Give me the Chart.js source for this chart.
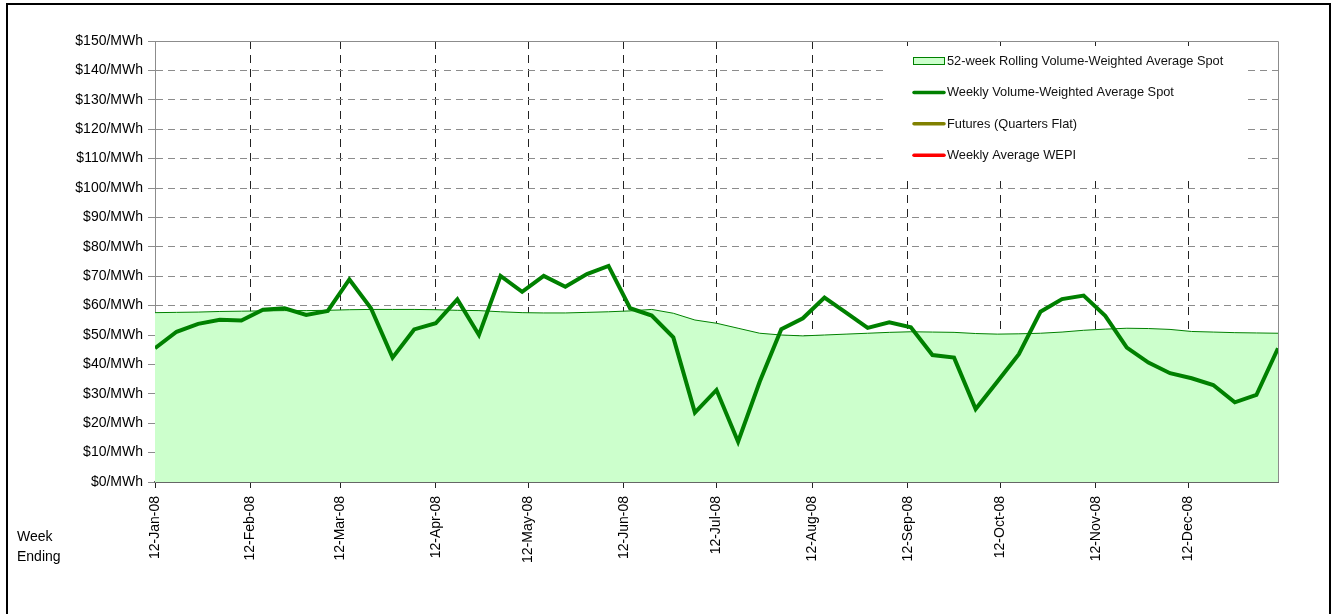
<!DOCTYPE html>
<html lang="en">
  <head>
    <meta charset="UTF-8" />
    <title>Weekly Volume-Weighted Average Spot</title>
    <style>
      body {
        margin: 0;
        padding: 0;
        background-color: white;
        overflow: hidden;
      }
    </style>
  </head>
  <body>
    <canvas id="myChart" width="1335" height="614"></canvas>
    <script src="https://cdn.jsdelivr.net/npm/chart.js@4.4.0/dist/chart.umd.min.js"></script>
    <script>
      // week ending dates start 12-Jan-08, one point per week
      const firstWeek = Date.UTC(2008, 0, 12);

      const spotWeekly = [
        45.5, 51.1, 53.8, 55.2, 54.9, 58.6, 59.1, 56.8, 58.2, 68.9,
        59.1, 42.3, 51.9, 54.0, 62.1, 50.0, 70.1, 64.7, 70.1, 66.4,
        70.7, 73.5, 59.1, 56.6, 49.2, 23.6, 31.3, 13.7, 34.1, 52.0,
        55.7, 62.7, 57.6, 52.4, 54.3, 52.6, 43.2, 42.3, 24.8, 34.1,
        43.5, 57.9, 62.2, 63.4, 56.5, 45.7, 40.6, 37.0, 35.3, 33.0,
        27.1, 29.6, 45.5,
      ];

      const rolling52 = [
        57.6, 57.7, 57.8, 58.0, 58.1, 58.2, 58.3, 58.3, 58.4, 58.6,
        58.7, 58.7, 58.7, 58.6, 58.4, 58.3, 57.9, 57.6, 57.5, 57.5,
        57.7, 57.9, 58.2, 58.7, 57.4, 55.1, 54.0, 52.3, 50.6, 50.0,
        49.7, 50.0, 50.3, 50.6, 50.9, 51.1, 51.0, 50.9, 50.5, 50.3,
        50.4, 50.6, 51.0, 51.6, 52.0, 52.3, 52.2, 51.9, 51.2, 51.0,
        50.8, 50.7, 50.6,
      ];

      // no data shown for these two series
      const futuresQuarters = [];
      const wepiWeekly = [];

      const tickLabels = [
        "12-Jan-08", "12-Feb-08", "12-Mar-08", "12-Apr-08", "12-May-08", "12-Jun-08",
        "12-Jul-08", "12-Aug-08", "12-Sep-08", "12-Oct-08", "12-Nov-08", "12-Dec-08",
      ];
      const tickDays = tickLabels.map(function (_, m) {
        return (Date.UTC(2008, m, 12) - firstWeek) / 86400000;
      });

      const toPoints = (arr) => arr.map((v, i) => ({ x: i * 7, y: v }));

      const fontFamily = "Arial, 'Liberation Sans', sans-serif";

      const chartFrame = {
        id: "chartFrame",
        afterDraw(chart) {
          const ctx = chart.ctx;
          const a = chart.chartArea;
          ctx.save();
          // plot area top and right edges
          ctx.strokeStyle = "#8c8c8c";
          ctx.lineWidth = 1;
          ctx.beginPath();
          ctx.moveTo(a.left, a.top + 0.5);
          ctx.lineTo(a.right + 0.5, a.top + 0.5);
          ctx.lineTo(a.right + 0.5, a.bottom);
          ctx.stroke();
          // outer frame
          ctx.strokeStyle = "#000";
          ctx.lineWidth = 2;
          ctx.beginPath();
          ctx.moveTo(7, chart.height + 2);
          ctx.lineTo(7, 4);
          ctx.lineTo(1330, 4);
          ctx.lineTo(1330, chart.height + 2);
          ctx.stroke();
          // axis caption
          ctx.fillStyle = "#000";
          ctx.font = "14px " + fontFamily;
          ctx.textBaseline = "middle";
          ctx.textAlign = "left";
          ctx.fillText("Week", 17, 537);
          ctx.fillText("Ending", 17, 557);
          ctx.restore();
        },
      };

      const boxLegend = {
        id: "boxLegend",
        beforeDatasetsDraw(chart) {
          const ctx = chart.ctx;
          const sets = chart.data.datasets;
          ctx.save();
          ctx.fillStyle = "#fff";
          ctx.fillRect(885, 46, 362, 132);
          ctx.font = "12.8px " + fontFamily;
          ctx.textBaseline = "middle";
          ctx.textAlign = "left";
          sets.forEach(function (ds, i) {
            const y = 61 + i * 31.4;
            if (ds.fill) {
              ctx.fillStyle = ds.backgroundColor;
              ctx.fillRect(913.5, y - 3.5, 31, 7);
              ctx.strokeStyle = ds.borderColor;
              ctx.lineWidth = 1;
              ctx.strokeRect(913.5, y - 3.5, 31, 7);
            } else {
              ctx.strokeStyle = ds.borderColor;
              ctx.lineWidth = 3.5;
              ctx.lineCap = "round";
              ctx.beginPath();
              ctx.moveTo(914, y);
              ctx.lineTo(944, y);
              ctx.stroke();
            }
            ctx.fillStyle = "#111";
            ctx.fillText(ds.label, 947, y + 0.5);
          });
          ctx.restore();
        },
      };

      const data = {
        datasets: [
          {
            label: "52-week Rolling Volume-Weighted Average Spot",
            data: toPoints(rolling52),
            fill: "origin",
            backgroundColor: "#ccffcc",
            borderColor: "#008000",
            borderWidth: 1,
            pointRadius: 0,
            order: 2,
          },
          {
            label: "Weekly Volume-Weighted Average Spot",
            data: toPoints(spotWeekly),
            fill: false,
            borderColor: "#008000",
            borderWidth: 4,
            pointRadius: 0,
            order: 1,
          },
          {
            label: "Futures (Quarters Flat)",
            data: toPoints(futuresQuarters),
            fill: false,
            borderColor: "#808000",
            borderWidth: 4,
            pointRadius: 0,
            order: 0,
          },
          {
            label: "Weekly Average WEPI",
            data: toPoints(wepiWeekly),
            fill: false,
            borderColor: "#ff0000",
            borderWidth: 4,
            pointRadius: 0,
            order: 0,
          },
        ],
      };

      const config = {
        type: "line",
        data: data,
        options: {
          responsive: false,
          animation: false,
          devicePixelRatio: 1,
          layout: { padding: { top: 41, right: 57, left: 0, bottom: 0 } },
          plugins: {
            legend: { display: false },
            tooltip: { enabled: false },
          },
          scales: {
            x: {
              type: "linear",
              min: 0,
              max: 364,
              afterBuildTicks: function (scale) {
                scale.ticks = tickDays.map((d) => ({ value: d }));
              },
              afterFit: function (scale) {
                scale.height = 132;
              },
              grid: {
                color: (c) => (c.tick && c.tick.value === 0 ? "rgba(0,0,0,0)" : "#222"),
                tickColor: "#222",
                tickLength: 6,
                tickBorderDash: [],
              },
              border: { display: true, color: "#666", width: 2, dash: [8, 6] },
              ticks: {
                autoSkip: false,
                minRotation: 90,
                maxRotation: 90,
                padding: 8,
                color: "#000",
                font: { family: fontFamily, size: 14 },
                callback: (v, i) => tickLabels[i],
              },
            },
            y: {
              min: 0,
              max: 150,
              afterFit: function (scale) {
                scale.width = 155;
              },
              grid: {
                color: (c) =>
                  c.tick && (c.tick.value === 0 || c.tick.value === 150) ? "rgba(0,0,0,0)" : "#8c8c8c",
                tickColor: "#8c8c8c",
                tickLength: 7,
                tickBorderDash: [],
              },
              border: { display: true, color: "#8c8c8c", width: 1, dash: [7, 5] },
              ticks: {
                stepSize: 10,
                padding: 5,
                color: "#000",
                font: { family: fontFamily, size: 14 },
                callback: (v) => "$" + v + "/MWh",
              },
            },
          },
        },
        plugins: [boxLegend, chartFrame],
      };

      const ctx = document.getElementById("myChart").getContext("2d");
      const myChart = new Chart(ctx, config);
    </script>
  </body>
</html>
